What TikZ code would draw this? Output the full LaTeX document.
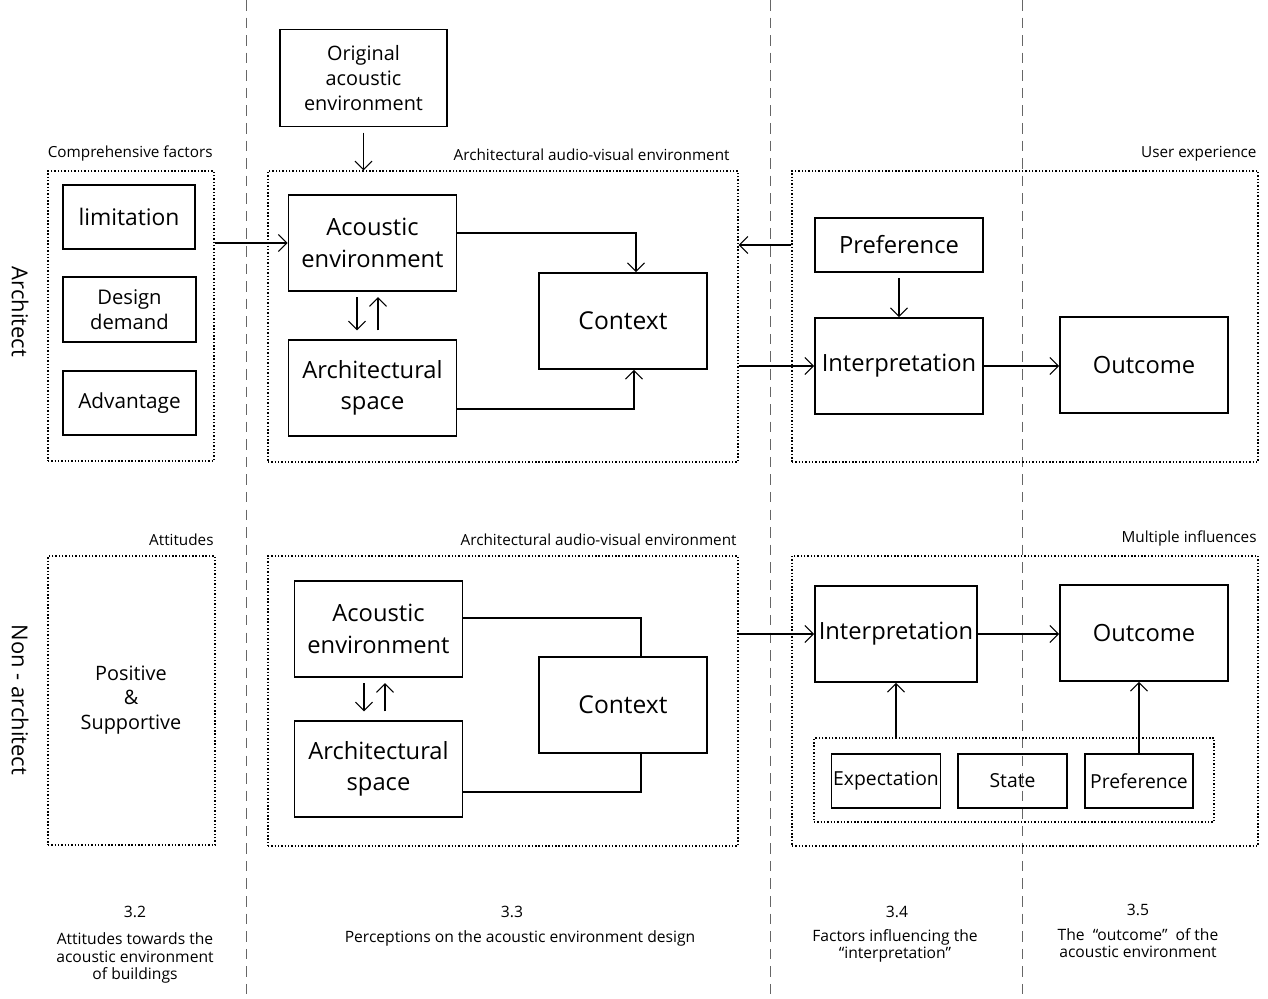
\documentclass[tikz,border=0pt]{standalone}
\usepackage{fontspec}
\setmainfont{Open Sans}
\usetikzlibrary{positioning,arrows.meta}

\tikzset{
  blk/.style={draw, line width=1.1pt, minimum width=3.36cm, minimum height=1.92cm,
    align=center, inner sep=1pt, font=\fontsize{13.5}{18}\selectfont},
  sblk/.style={draw, line width=0.9pt, minimum height=1.08cm, align=center,
    inner sep=1pt, font=\fontsize{11}{14}\selectfont},
  grp/.style={draw, dash pattern=on 0.8pt off 1.1pt, line width=0.8pt, inner sep=0pt},
  grplabel/.style={font=\fontsize{8.7}{11}\selectfont, inner sep=1pt},
  sep/.style={draw=black!60, dash pattern=on 6pt off 4pt, line width=0.5pt},
  lnk/.style={line width=0.6pt},
  foot/.style={font=\fontsize{8.9}{9.8}\selectfont, align=center, inner sep=1pt},
  side/.style={rotate=-90, font=\fontsize{12.5}{15}\selectfont},
}

\begin{document}
\begin{tikzpicture}[x=0.02cm, y=-0.02cm, >={Straight Barb[length=1.7mm,width=3.4mm]}]
  \useasboundingbox (0,0) rectangle (1268,998);

  % section separators
  \foreach \sx in {246,770,1022}
    \draw[sep] (\sx,0) -- (\sx,998);

  % row labels
  \node[side] (rowa) at (20,312) {Architect};
  \node[side] (rown) at (20,700) {Non - architect};

  % ---- architect row ----
  \node[grp, minimum width=3.32cm, minimum height=5.8cm] (cf) at (131,316) {};
  \node[grplabel, above left=0.15cm and 0cm of cf.north east] (cfl) {Comprehensive factors};
  \node[draw, line width=1.1pt, minimum width=2.64cm, minimum height=1.28cm,
    font=\fontsize{13}{16}\selectfont] (lim) at (129,217) {limitation};
  \node[sblk, minimum width=2.66cm, minimum height=1.3cm,
    font=\fontsize{11.5}{14}\selectfont] (dd) at (129.5,309.5) {Design\\demand};
  \node[sblk, minimum width=2.66cm, minimum height=1.28cm,
    font=\fontsize{11.8}{14}\selectfont] (adv) at (129.5,403) {Advantage};

  \node[blk, minimum width=3.34cm, minimum height=1.94cm,
    font=\fontsize{11.3}{14}\selectfont] (orig) at (363.5,78) {Original\\acoustic\\environment};

  \node[grp, minimum width=9.4cm, minimum height=5.82cm] (av1) at (503,316.5) {};
  \node[grplabel, above left=0.15cm and 0.14cm of av1.north east] (av1l) {Architectural audio-visual environment};
  \node[blk] (ae1) at (372.5,243) {Acoustic\\environment};
  \node[blk] (as1) at (372.5,388) {Architectural\\space};
  \node[blk, font=\fontsize{14}{18}\selectfont] (ctx1) at (623,321) {Context};

  \node[grp, minimum width=9.32cm, minimum height=5.82cm] (ux) at (1025,316.5) {};
  \node[grplabel, above left=0.15cm and 0cm of ux.north east] (uxl) {User experience};
  \node[blk, line width=0.8pt, minimum height=1.08cm] (pref1) at (899,245) {Preference};
  \node[blk] (int1) at (899,366) {Interpretation};
  \node[blk] (out1) at (1144,365) {Outcome};

  \draw[lnk,->] (cf.east |- ae1.west) -- (ae1.west);
  \draw[lnk,->, shorten <=3pt] (orig.south) -- (orig.south |- av1.north);
  \draw[lnk,->] ([yshift=0.2cm]ae1.east) -| ([xshift=0.26cm]ctx1.north);
  \draw[lnk,->] ([yshift=-0.42cm]as1.east) -| ([xshift=0.22cm]ctx1.south);
  \draw[lnk,->, shorten <=3pt, shorten >=5pt] ([xshift=-0.31cm]ae1.south) -- ([xshift=-0.31cm]as1.north);
  \draw[lnk,->, shorten <=5pt, shorten >=3pt] ([xshift=0.11cm]as1.north) -- ([xshift=0.11cm]ae1.south);
  \draw[lnk,->] (ux.west |- pref1.west) -- (av1.east |- pref1.west);
  \draw[lnk,->] (av1.east |- int1.west) -- (int1.west);
  \draw[lnk,->, shorten <=3pt] (pref1.south) -- (int1.north);
  \draw[lnk,->] (int1.east) -- (int1.east -| out1.west);

  % ---- non-architect row ----
  \node[grp, minimum width=3.34cm, minimum height=5.78cm] (att) at (131.5,700.5) {};
  \node[grplabel, above left=0.15cm and 0cm of att.north east] (attl) {Attitudes};
  \node[align=center, font=\fontsize{11.3}{14}\selectfont] (pos) at (131,700) {Positive\\\&\\Supportive};

  \node[grp, minimum width=9.4cm, minimum height=5.8cm] (av2) at (503,701) {};
  \node[grplabel, above left=0.15cm and 0cm of av2.north east] (av2l) {Architectural audio-visual environment};
  \node[blk] (ae2) at (378.5,629) {Acoustic\\environment};
  \node[blk] (as2) at (378.5,769) {Architectural\\space};
  \node[blk, font=\fontsize{14}{18}\selectfont] (ctx2) at (623,705) {Context};

  \node[grp, minimum width=9.32cm, minimum height=5.8cm] (mi) at (1025,701) {};
  \node[grplabel, above left=0.15cm and 0cm of mi.north east] (mil) {Multiple influences};
  \node[blk, minimum width=3.24cm] (int2) at (896,634) {Interpretation};
  \node[blk] (out2) at (1144,633) {Outcome};
  \node[grp, minimum width=8cm, minimum height=1.68cm] (inner) at (1014,780) {};
  \node[sblk, minimum width=2.16cm] (expc) at (886,781) {Expectation};
  \node[sblk, minimum width=2.18cm] (stat) at (1012.5,781) {State};
  \node[sblk, minimum width=2.16cm] (pref2) at (1139,781) {Preference};

  \draw[lnk,->, shorten <=3pt, shorten >=5pt] ([xshift=-0.29cm]ae2.south) -- ([xshift=-0.29cm]as2.north);
  \draw[lnk,->, shorten <=5pt, shorten >=3pt] ([xshift=0.13cm]as2.north) -- ([xshift=0.13cm]ae2.south);
  \draw[lnk] ([yshift=0.22cm]ae2.east) -| ([xshift=0.36cm]ctx2.north);
  \draw[lnk] ([yshift=-0.46cm]as2.east) -| ([xshift=0.36cm]ctx2.south);
  \draw[lnk,->] (av2.east |- int2.west) -- (int2.west);
  \draw[lnk,->] (int2.east) -- (int2.east -| out2.west);
  \draw[lnk,->] (int2.south |- inner.north) -- (int2.south);
  \draw[lnk,->] (pref2.north) -- (pref2.north |- out2.south);

  % ---- section notes ----
  \node[foot] (n32) at (135,912) {3.2};
  \node[foot] (t32) at (135,958) {Attitudes towards the\\acoustic environment\\of buildings};
  \node[foot] (n33) at (512,912) {3.3};
  \node[foot] (t33) at (520,938) {Perceptions on the acoustic environment design};
  \node[foot] (n34) at (897,912) {3.4};
  \node[foot] (t34) at (895,946) {Factors influencing the\\“interpretation”};
  \node[foot] (n35) at (1138,910) {3.5};
  \node[foot] (t35) at (1138,943) {The \ “outcome”\ \ of the\\acoustic environment};
\end{tikzpicture}
\end{document}
